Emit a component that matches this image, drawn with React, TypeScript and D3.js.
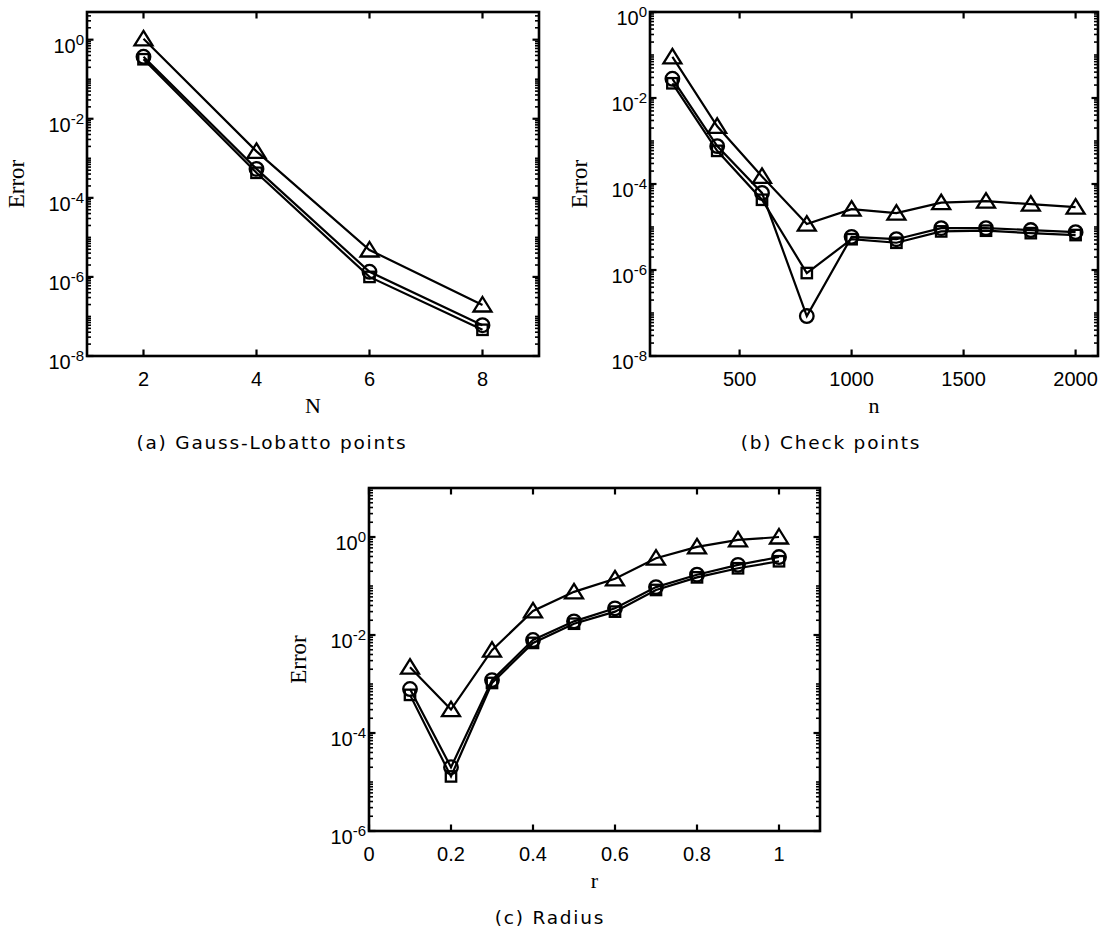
import React from "react";
import * as d3 from "d3";

// ---------- data ----------
// (a) Gauss-Lobatto points
const aN = [2, 4, 6, 8];
const aTriangle = [1.05, 1.5e-3, 4.8e-6, 1.95e-7];
const aCircle = [0.37, 5.4e-4, 1.35e-6, 6.0e-8];
const aSquare = [0.32, 4.3e-4, 1.0e-6, 4.6e-8];

// (b) Check points
const bN = [200, 400, 600, 800, 1000, 1200, 1400, 1600, 1800, 2000];
const bTriangle = [0.09, 2.2e-3, 1.5e-4, 1.17e-5, 2.6e-5, 2.1e-5, 3.7e-5, 4.0e-5, 3.4e-5, 2.9e-5];
const bCircle = [0.028, 7.6e-4, 6.2e-5, 8.5e-8, 5.9e-6, 5.2e-6, 9.4e-6, 9.4e-6, 8.5e-6, 7.6e-6];
const bSquare = [0.022, 5.9e-4, 4.3e-5, 8.5e-7, 5.2e-6, 4.3e-6, 7.9e-6, 8.2e-6, 7.2e-6, 6.5e-6];

// (c) Radius
const cR = [0.1, 0.2, 0.3, 0.4, 0.5, 0.6, 0.7, 0.8, 0.9, 1.0];
const cTriangle = [2.2e-3, 3.0e-4, 4.9e-3, 0.031, 0.076, 0.14, 0.37, 0.63, 0.87, 1.0];
const cCircle = [7.9e-4, 2.0e-5, 1.2e-3, 7.9e-3, 0.019, 0.035, 0.095, 0.17, 0.27, 0.39];
const cSquare = [6.0e-4, 1.3e-5, 1.05e-3, 6.9e-3, 0.017, 0.03, 0.083, 0.15, 0.23, 0.32];

// tick labels
const aXTicks = [2, 4, 6, 8];
const bXTicks = [500, 1000, 1500, 2000];
const cXTicks = [0, 0.2, 0.4, 0.6, 0.8, 1];
const abYExponents = [-8, -6, -4, -2, 0];
const cYExponents = [-6, -4, -2, 0];

const captions = ["(a) Gauss-Lobatto points", "(b) Check points", "(c) Radius"];
const xLabels = ["N", "n", "r"];
const yLabel = "Error";

type Series = { marker: "triangle" | "circle" | "square"; values: number[] };

const SANS = "'Liberation Sans', Arial, sans-serif";
const SERIF = "'Liberation Serif', 'Times New Roman', serif";
const CAPTION = "'DejaVu Sans', sans-serif";

function Marker({ type, x, y }: { type: string; x: number; y: number }) {
  const common = { fill: "none", stroke: "#000", strokeWidth: 2.3 };
  if (type === "triangle") {
    const p = `${x},${y - 8} ${x + 9},${y + 6.5} ${x - 9},${y + 6.5}`;
    return <polygon points={p} {...common} strokeLinejoin="miter" />;
  }
  if (type === "circle") return <circle cx={x} cy={y} r={6.8} {...common} />;
  return <rect x={x - 5.2} y={y - 5.2} width={10.4} height={10.4} {...common} />;
}

function Panel(props: {
  left: number; top: number; right: number; bottom: number;
  xDomain: [number, number]; yDomain: [number, number];
  xTicks: number[]; yExps: number[]; xs: number[]; series: Series[];
  xLabel: string; xFmt: (v: number) => string;
}) {
  const { left, top, right, bottom, xDomain, yDomain, xTicks, yExps, xs, series, xLabel, xFmt } = props;
  const x = d3.scaleLinear().domain(xDomain).range([left, right]);
  const y = d3.scaleLog().domain(yDomain).range([bottom, top]);
  const line = d3.line<number>().x((_, i) => x(xs[i])).y((v) => y(v));

  const majorVals = yExps.map((e) => Math.pow(10, e));
  const minor: number[] = [];
  const k0 = Math.floor(Math.log10(yDomain[0]));
  const k1 = Math.ceil(Math.log10(yDomain[1]));
  for (let k = k0; k <= k1; k++) {
    for (let m = 1; m <= 9; m++) {
      const v = m * Math.pow(10, k);
      if (v < yDomain[0] * 0.999 || v > yDomain[1] * 1.001) continue;
      if (m === 1 && yExps.includes(k)) continue;
      minor.push(v);
    }
  }
  const midY = (top + bottom) / 2;
  const midX = (left + right) / 2;

  return (
    <g>
      {/* data */}
      {series.map((s, si) => (
        <path key={"l" + si} d={line(s.values) || ""} fill="none" stroke="#000" strokeWidth={2.2} />
      ))}
      {series.map((s, si) =>
        s.values.map((v, i) => <Marker key={`m${si}-${i}`} type={s.marker} x={x(xs[i])} y={y(v)} />)
      )}
      {/* minor y ticks */}
      {minor.map((v, i) => (
        <g key={"mn" + i}>
          <line x1={left} x2={left + 4} y1={y(v)} y2={y(v)} stroke="#000" strokeWidth={1.6} />
          <line x1={right} x2={right - 4} y1={y(v)} y2={y(v)} stroke="#000" strokeWidth={1.6} />
        </g>
      ))}
      {/* major y ticks + labels */}
      {majorVals.map((v, i) => (
        <g key={"my" + i}>
          <line x1={left} x2={left + 6.5} y1={y(v)} y2={y(v)} stroke="#000" strokeWidth={2.2} />
          <line x1={right} x2={right - 6.5} y1={y(v)} y2={y(v)} stroke="#000" strokeWidth={2.2} />
          <text x={left - 3} y={y(v) + 13} textAnchor="end" fontFamily={SANS} fontSize={20}>
            10
            <tspan dy={-8} fontSize={15}>{String(yExps[i])}</tspan>
          </text>
        </g>
      ))}
      {/* x ticks + labels */}
      {xTicks.map((t, i) => (
        <g key={"xt" + i}>
          <line x1={x(t)} x2={x(t)} y1={bottom} y2={bottom - 6.5} stroke="#000" strokeWidth={2.2} />
          <line x1={x(t)} x2={x(t)} y1={top} y2={top + 6.5} stroke="#000" strokeWidth={2.2} />
          <text x={x(t)} y={bottom + 30} textAnchor="middle" fontFamily={SANS} fontSize={20}>
            {xFmt(t)}
          </text>
        </g>
      ))}
      {/* frame */}
      <rect x={left} y={top} width={right - left} height={bottom - top} fill="none" stroke="#000" strokeWidth={2.6} />
      {/* axis labels */}
      <text x={midX} y={bottom + 57} textAnchor="middle" fontFamily={SERIF} fontSize={22}>
        {xLabel}
      </text>
      <text
        transform={`translate(${left - 71},${midY}) rotate(-90)`}
        textAnchor="middle"
        dy="0.35em"
        fontFamily={SERIF}
        fontSize={23}
      >
        {yLabel}
      </text>
    </g>
  );
}

export default function App() {
  const sA: Series[] = [
    { marker: "triangle", values: aTriangle },
    { marker: "circle", values: aCircle },
    { marker: "square", values: aSquare },
  ];
  const sB: Series[] = [
    { marker: "triangle", values: bTriangle },
    { marker: "circle", values: bCircle },
    { marker: "square", values: bSquare },
  ];
  const sC: Series[] = [
    { marker: "triangle", values: cTriangle },
    { marker: "circle", values: cCircle },
    { marker: "square", values: cSquare },
  ];
  const capStyle = { fontFamily: CAPTION, fontSize: 18.5, letterSpacing: "1.8px" } as const;
  return (
    <svg width={1106} height={932} style={{ position: "absolute", left: 0, top: 0, background: "#fff" }}>
      <rect x={0} y={0} width={1106} height={932} fill="#fff" />
      <Panel left={87} top={12} right={539} bottom={356} xDomain={[1, 9]} yDomain={[1e-8, Math.pow(10, 0.7)]}
        xTicks={aXTicks} yExps={abYExponents} xs={aN} series={sA} xLabel={xLabels[0]} xFmt={(v) => String(v)} />
      <Panel left={650} top={12} right={1098} bottom={356} xDomain={[100, 2100]} yDomain={[1e-8, 1]}
        xTicks={bXTicks} yExps={abYExponents} xs={bN} series={sB} xLabel={xLabels[1]} xFmt={(v) => String(v)} />
      <Panel left={369} top={488} right={820} bottom={831} xDomain={[0, 1.1]} yDomain={[1e-6, 10]}
        xTicks={cXTicks} yExps={cYExponents} xs={cR} series={sC} xLabel={xLabels[2]} xFmt={(v) => String(v)} />
      <text x={272} y={449} textAnchor="middle" {...capStyle}>{captions[0]}</text>
      <text x={831} y={449} textAnchor="middle" {...capStyle}>{captions[1]}</text>
      <text x={550} y={924} textAnchor="middle" {...capStyle}>{captions[2]}</text>
    </svg>
  );
}
